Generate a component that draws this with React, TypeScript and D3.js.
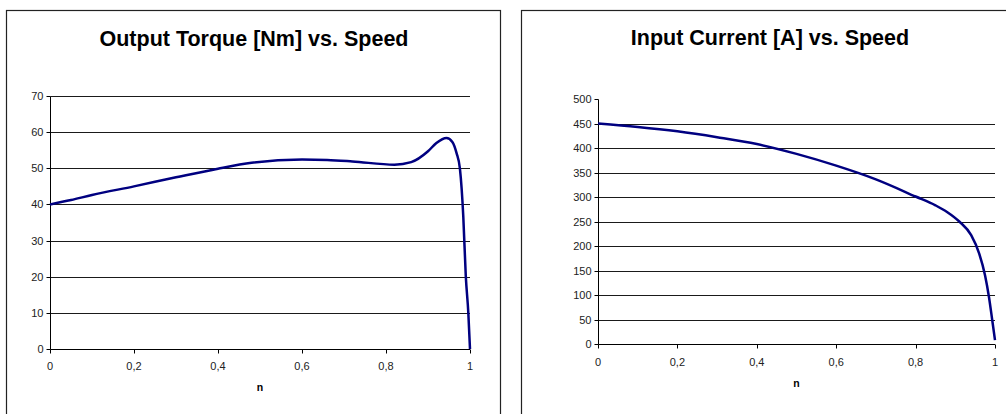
import React from "react";
import * as d3 from "d3";

// torque curve
const torqueSpeed = [0, 0.05, 0.1, 0.2, 0.3, 0.4, 0.48, 0.6, 0.66, 0.72, 0.82, 0.86, 0.9, 0.92, 0.944, 0.958, 0.968, 0.976, 0.984, 0.99, 0.996, 1.0];
const torqueValues = [40, 41.2, 42.6, 45, 47.5, 49.9, 51.5, 52.4, 52.3, 51.9, 51.0, 51.7, 54.7, 57, 58.4, 57.3, 54.2, 49.9, 36.7, 20.1, 10, 0];
const torqueTicks = [0, 10, 20, 30, 40, 50, 60, 70];

// input current curve
const currentSpeed = [0, 0.1, 0.2, 0.3, 0.4, 0.5, 0.6, 0.7, 0.8, 0.85, 0.88, 0.91, 0.94, 0.96, 0.975, 0.985, 0.993, 1.0];
const currentValues = [450, 443, 434, 422, 408, 388, 364, 336, 301, 283, 269, 250, 222, 185, 140, 95, 49, 8];
const currentTicks = [0, 50, 100, 150, 200, 250, 300, 350, 400, 450, 500];

const speedTicks = [0, 0.2, 0.4, 0.6, 0.8, 1];

const FONT = "'Liberation Sans', Arial, sans-serif";

type ChartProps = {
  title: string;
  xs: number[];
  ys: number[];
  yTicks: number[];
  gridTo: number;
  box: { x: number; y: number; w: number; h: number };
  plot: { left: number; right: number; top: number; bottom: number };
  titleX: number;
  titleY: number;
  xLabelY: number;
  nY: number;
};

function Chart(p: ChartProps) {
  const x = d3.scaleLinear().domain([0, 1]).range([p.plot.left, p.plot.right]);
  const y = d3
    .scaleLinear()
    .domain([0, p.yTicks[p.yTicks.length - 1]])
    .range([p.plot.bottom, p.plot.top]);
  const line = d3
    .line<number>()
    .x((d, i) => x(p.xs[i]))
    .y((d) => y(d))
    .curve(d3.curveMonotoneX);
  const fmt = (v: number) => String(v).replace(".", ",");
  const ax = Math.round(p.plot.left) + 0.5;
  const ab = Math.round(p.plot.bottom) + 0.5;

  return (
    <g>
      <rect x={p.box.x + 0.5} y={p.box.y + 0.5} width={p.box.w} height={p.box.h} fill="#fff" stroke="#222" strokeWidth={1.2} />
      <text x={p.titleX} y={p.titleY} textAnchor="middle" fontFamily={FONT} fontWeight="bold" fontSize={21.5} fill="#000">
        {p.title}
      </text>
      {/* gridlines */}
      {p.yTicks
        .filter((t) => t > 0 && t <= p.gridTo)
        .map((t) => (
          <line key={"g" + t} x1={ax} x2={p.plot.right} y1={Math.round(y(t)) + 0.5} y2={Math.round(y(t)) + 0.5} stroke="#1a1a1a" strokeWidth={1} />
        ))}
      {/* y axis */}
      <line x1={ax} x2={ax} y1={Math.round(p.plot.top) + 0.5} y2={ab} stroke="#000" />
      {p.yTicks.map((t) => (
        <g key={"y" + t}>
          <line x1={ax - 4} x2={ax} y1={Math.round(y(t)) + 0.5} y2={Math.round(y(t)) + 0.5} stroke="#000" />
          <text x={ax - 7} y={y(t) + 4} textAnchor="end" fontFamily={FONT} fontSize={11} fill="#222">
            {t}
          </text>
        </g>
      ))}
      {/* x axis */}
      <line x1={ax} x2={p.plot.right} y1={ab} y2={ab} stroke="#000" />
      {speedTicks.map((t) => (
        <g key={"x" + t}>
          <line x1={Math.round(x(t)) + 0.5} x2={Math.round(x(t)) + 0.5} y1={ab} y2={ab + 4} stroke="#000" />
          <text x={x(t)} y={p.xLabelY} textAnchor="middle" fontFamily={FONT} fontSize={11} fill="#222">
            {fmt(t)}
          </text>
        </g>
      ))}
      <text x={(p.plot.left + p.plot.right) / 2} y={p.nY} textAnchor="middle" fontFamily={FONT} fontWeight="bold" fontSize={10.5} fill="#000">
        n
      </text>
      <path d={line(p.ys) || ""} fill="none" stroke="#000080" strokeWidth={2.5} strokeLinejoin="round" />
    </g>
  );
}

export default function App() {
  return (
    <svg width={1006} height={414} style={{ position: "absolute", left: 0, top: 0 }}>
      <rect width={1006} height={414} fill="#fff" />
      <Chart
        title="Output Torque [Nm] vs. Speed"
        xs={torqueSpeed}
        ys={torqueValues}
        yTicks={torqueTicks}
        gridTo={70}
        box={{ x: 6, y: 10, w: 494, h: 420 }}
        plot={{ left: 50, right: 470, top: 96, bottom: 349 }}
        titleX={254}
        titleY={46}
        xLabelY={370}
        nY={391}
      />
      <Chart
        title="Input Current [A] vs. Speed"
        xs={currentSpeed}
        ys={currentValues}
        yTicks={currentTicks}
        gridTo={450}
        box={{ x: 521, y: 10, w: 500, h: 420 }}
        plot={{ left: 598, right: 995, top: 99, bottom: 344 }}
        titleX={770}
        titleY={45}
        xLabelY={366}
        nY={387}
      />
    </svg>
  );
}
